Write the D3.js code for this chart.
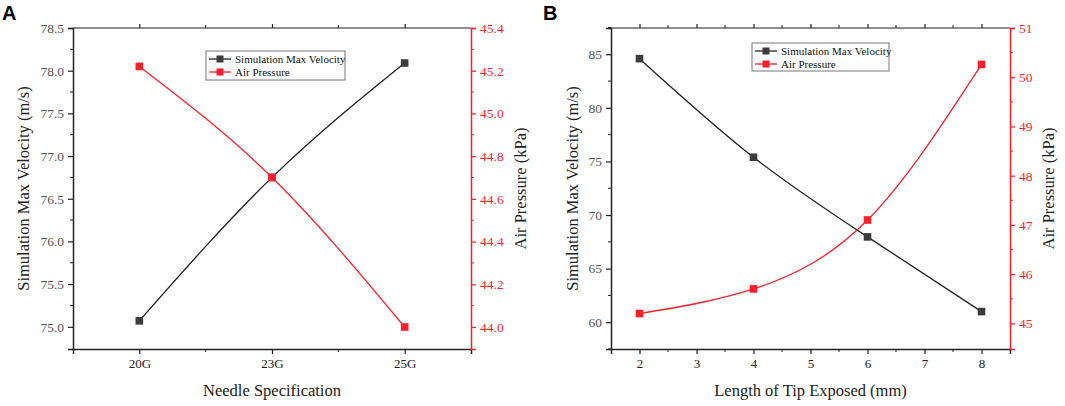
<!DOCTYPE html>
<html><head><meta charset="utf-8">
<script src="https://cdn.jsdelivr.net/npm/d3@7/dist/d3.min.js"></script>
<style>body{margin:0;background:#fff}</style>
</head><body>
<svg id="c" width="1065" height="406"></svg>
<script>
// Panel A data
const needleCats = ["20G", "23G", "25G"];
const needleVelocity = [75.07, 76.75, 78.09];
const needlePressure = [45.22, 44.70, 44.00];
const aLeftTicks = [75.0, 75.5, 76.0, 76.5, 77.0, 77.5, 78.0, 78.5];
const aRightTicks = [44.0, 44.2, 44.4, 44.6, 44.8, 45.0, 45.2, 45.4];
// Panel B data
const tipLengths = [2, 4, 6, 8];
const tipVelocity = [84.59, 75.39, 67.96, 60.99];
const tipPressure = [45.20, 45.70, 47.10, 50.26];
const bXTicks = [2, 3, 4, 5, 6, 7, 8];
const bLeftTicks = [60, 65, 70, 75, 80, 85];
const bRightTicks = [45, 46, 47, 48, 49, 50, 51];
const seriesNames = ["Simulation Max Velocity", "Air Pressure"];

const svg = d3.select("#c");
const BLK = "#222", RED = "#ff1f2a", GRAY = "#555";
const serif = "Liberation Serif";

function panel(o) {
  const g = svg.append("g");
  const {x0, x1, y0, y1} = o;
  g.append("line").attr("x1", x0).attr("x2", x1).attr("y1", y0).attr("y2", y0).attr("stroke", BLK).attr("stroke-width", 1.2);

  // bottom axis
  const bx = g.append("g").attr("transform", `translate(0,${y1})`)
    .call(o.xAxis.tickSize(5).tickPadding(5));
  bx.attr("font-family", serif);
  bx.select(".domain").attr("stroke", BLK).attr("stroke-width", 1.5);
  bx.selectAll(".tick line").attr("stroke", BLK).attr("stroke-width", 1.2);
  bx.selectAll("text").style("font-family", serif).attr("font-size", 13).attr("fill", BLK);
  // top axis ticks
  const tx = g.append("g").attr("transform", `translate(0,${y0})`)
    .call(o.xAxisTop.tickSize(4).tickFormat(""));
  tx.select(".domain").remove();
  tx.selectAll(".tick line").attr("stroke", BLK).attr("stroke-width", 1.2);
  o.xMinor.forEach(v => {
    [[y1, y1 + 3], [y0, y0 - 3]].forEach(([a, b]) =>
      g.append("line").attr("x1", v).attr("x2", v).attr("y1", a).attr("y2", b).attr("stroke", BLK).attr("stroke-width", 1));
  });

  // left axis
  const ly = g.append("g").attr("transform", `translate(${x0},0)`)
    .call(d3.axisLeft(o.yL).tickValues(o.lTicks).tickFormat(o.lFmt).tickSize(5).tickPadding(4));
  ly.attr("font-family", serif);
  ly.select(".domain").attr("stroke", BLK).attr("stroke-width", 1.5);
  ly.selectAll(".tick line").attr("stroke", BLK).attr("stroke-width", 1.2);
  ly.selectAll("text").style("font-family", serif).attr("font-size", 13.5).attr("fill", GRAY);
  o.lMinor.forEach(v => g.append("line").attr("x1", x0).attr("x2", x0 - 3).attr("y1", o.yL(v)).attr("y2", o.yL(v)).attr("stroke", BLK));

  // right axis
  const ry = g.append("g").attr("transform", `translate(${x1},0)`)
    .call(d3.axisRight(o.yR).tickValues(o.rTicks).tickFormat(o.rFmt).tickSize(5).tickPadding(4));
  ry.attr("font-family", serif);
  ry.select(".domain").attr("stroke", RED).attr("stroke-width", 1.5);
  ry.selectAll(".tick line").attr("stroke", RED).attr("stroke-width", 1.2);
  ry.selectAll("text").style("font-family", serif).attr("font-size", 13.5).attr("fill", RED);
  o.rMinor.forEach(v => g.append("line").attr("x1", x1).attr("x2", x1 + 3).attr("y1", o.yR(v)).attr("y2", o.yR(v)).attr("stroke", RED));

  // titles
  g.append("text").attr("x", (x0 + x1) / 2).attr("y", 396).attr("text-anchor", "middle")
    .style("font-family", serif).attr("font-size", 16.5).attr("fill", BLK).text(o.xTitle);
  g.append("text").attr("transform", `translate(${o.lTitleX},${(y0 + y1) / 2}) rotate(-90)`).attr("text-anchor", "middle")
    .style("font-family", serif).attr("font-size", 16.5).attr("fill", BLK).text("Simulation Max Velocity (m/s)");
  g.append("text").attr("transform", `translate(${o.rTitleX},${(y0 + y1) / 2}) rotate(-90)`).attr("text-anchor", "middle")
    .style("font-family", serif).attr("font-size", 16.5).attr("fill", BLK).text("Air Pressure (kPa)");
  g.append("text").attr("x", o.letterX).attr("y", 20).style("font-family", "Liberation Sans")
    .attr("font-weight", "bold").attr("font-size", 20).attr("fill", "#000").text(o.letter);

  const series = [
    {vals: o.vel, y: o.yL, color: BLK, fill: "#3c3c3c"},
    {vals: o.pres, y: o.yR, color: RED, fill: RED}
  ];
  series.forEach(s => {
    const pts = o.xs.map((xv, i) => [o.xPos(xv), s.y(s.vals[i])]);
    g.append("path").attr("d", d3.line().curve(d3.curveNatural)(pts))
      .attr("fill", "none").attr("stroke", s.color).attr("stroke-width", 1.3);
    g.selectAll(null).data(pts).enter().append("rect")
      .attr("x", d => d[0] - 3.8).attr("y", d => d[1] - 3.8).attr("width", 7.6).attr("height", 7.6)
      .attr("fill", s.fill);
  });

  // legend
  const L = o.legend;
  g.append("rect").attr("x", L.x).attr("y", L.y).attr("width", L.w).attr("height", L.h)
    .attr("fill", "#fff").attr("stroke", "#777").attr("stroke-width", 1);
  series.forEach((s, i) => {
    const yy = L.y + 8 + i * 13;
    g.append("line").attr("x1", L.x + 3).attr("x2", L.x + 25).attr("y1", yy).attr("y2", yy).attr("stroke", s.color).attr("stroke-width", 1.3);
    g.append("rect").attr("x", L.x + 10.5).attr("y", yy - 3.5).attr("width", 7).attr("height", 7).attr("fill", s.fill);
    g.append("text").attr("x", L.x + 29).attr("y", yy + 3.5).style("font-family", serif).attr("font-size", 11)
      .attr("fill", "#111").text(seriesNames[i]);
  });
}

// Panel A
{
  const x0 = 73, x1 = 471, y0 = 28, y1 = 349;
  const xs = d3.scalePoint().domain(needleCats).range([x0, x1]).padding(0.5);
  const step = xs.step();
  panel({
    x0, x1, y0, y1, letter: "A", letterX: 2,
    xAxis: d3.axisBottom(xs), xAxisTop: d3.axisTop(xs),
    xMinor: needleCats.slice(0, -1).map(c => xs(c) + step / 2),
    yL: d3.scaleLinear().domain([74.74, 78.5]).range([y1, y0]),
    yR: d3.scaleLinear().domain([43.897, 45.4]).range([y1, y0]),
    lTicks: aLeftTicks, lFmt: d3.format(".1f"),
    rTicks: aRightTicks, rFmt: d3.format(".1f"),
    lMinor: aLeftTicks.slice(0, -1).map(v => v + 0.25),
    rMinor: aRightTicks.slice(0, -1).map(v => v + 0.1),
    xTitle: "Needle Specification", lTitleX: 28.5, rTitleX: 526,
    xs: needleCats, xPos: c => xs(c),
    vel: needleVelocity, pres: needlePressure,
    legend: {x: 206, y: 51, w: 139, h: 29}
  });
}
// Panel B
{
  const x0 = 611, x1 = 1010, y0 = 28, y1 = 349;
  const xs = d3.scaleLinear().domain([1.5, 8.5]).range([x0, x1]);
  panel({
    x0, x1, y0, y1, letter: "B", letterX: 543,
    xAxis: d3.axisBottom(xs).tickValues(bXTicks).tickFormat(d3.format("d")),
    xAxisTop: d3.axisTop(xs).tickValues(bXTicks),
    xMinor: bXTicks.slice(0, -1).map(v => xs(v + 0.5)),
    yL: d3.scaleLinear().domain([57.5, 87.45]).range([y1, y0]),
    yR: d3.scaleLinear().domain([44.48, 51]).range([y1, y0]),
    lTicks: bLeftTicks, lFmt: d3.format("d"),
    rTicks: bRightTicks, rFmt: d3.format("d"),
    lMinor: [57.5].concat(bLeftTicks.map(v => v + 2.5)),
    rMinor: bRightTicks.slice(0, -1).map(v => v + 0.5),
    xTitle: "Length of Tip Exposed (mm)", lTitleX: 577.5, rTitleX: 1054,
    xs: tipLengths, xPos: v => xs(v),
    vel: tipVelocity, pres: tipPressure,
    legend: {x: 752, y: 43, w: 137, h: 28}
  });
}
</script>
</body></html>
